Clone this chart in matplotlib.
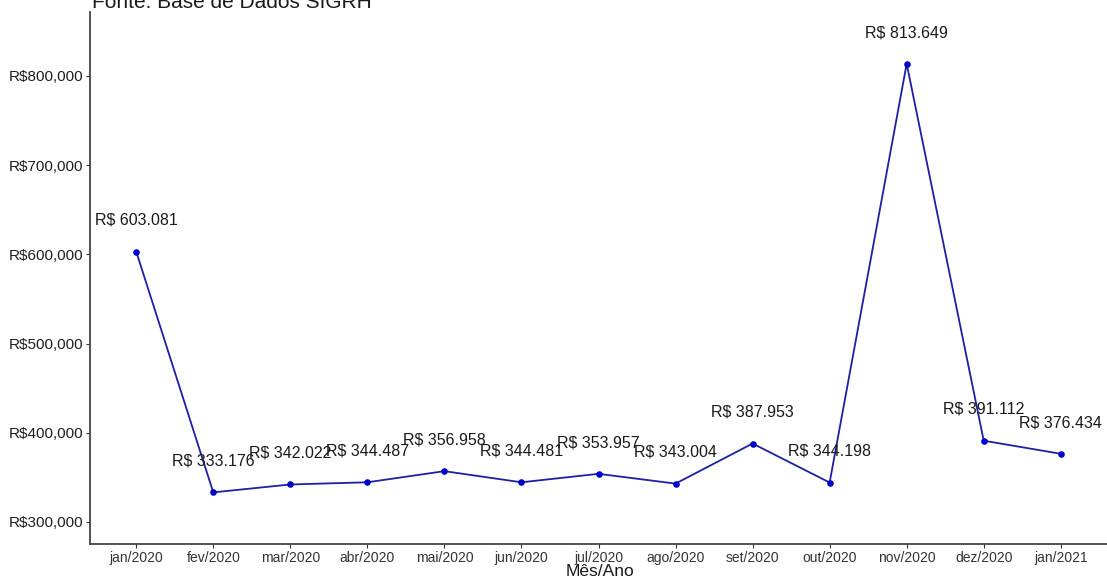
import numpy as np
import matplotlib.pyplot as plt
from matplotlib.ticker import FuncFormatter

meses = ['jan/2020', 'fev/2020', 'mar/2020', 'abr/2020', 'mai/2020', 'jun/2020',
         'jul/2020', 'ago/2020', 'set/2020', 'out/2020', 'nov/2020', 'dez/2020', 'jan/2021']
valores = [603081, 333176, 342022, 344487, 356958, 344481, 353957,
           343004, 387953, 344198, 813649, 391112, 376434]
rotulos = ['R$ 603.081', 'R$ 333.176', 'R$ 342.022', 'R$ 344.487', 'R$ 356.958',
           'R$ 344.481', 'R$ 353.957', 'R$ 343.004', 'R$ 387.953', 'R$ 344.198',
           'R$ 813.649', 'R$ 391.112', 'R$ 376.434']

plt.rcParams['font.family'] = ['Liberation Sans', 'DejaVu Sans']

fig = plt.figure(figsize=(11.07, 5.78), dpi=100)
ax = fig.add_axes([90/1107, 1-544/578, 1-90/1107, (544-12)/578])

x = np.arange(len(meses))
ax.plot(x, valores, color='#1f1fa3', lw=1.3, zorder=2)
ax.scatter(x, valores, color='#0000cc', s=14, zorder=3)

# rotulos acima dos pontos
for xi, v, r in zip(x, valores, rotulos):
    ax.text(xi, v + 35000, r, ha='center', va='center', fontsize=11.5, color='#1a1a1a')

ax.set_xlim(-0.6, 12.6)
ax.set_ylim(275300, 871700)
ax.set_xticks(x)
ax.set_xticklabels(meses, fontsize=10, color='#1e1e1e')
ax.set_yticks([300000, 400000, 500000, 600000, 700000, 800000])
ax.yaxis.set_major_formatter(FuncFormatter(lambda v, p: 'R$' + format(int(v), ',')))
ax.tick_params(axis='y', labelsize=11, colors='#333333', labelcolor='#1e1e1e', length=3, pad=2)
ax.tick_params(axis='x', colors='#333333', length=3, pad=2)

for s in ['top', 'right']:
    ax.spines[s].set_visible(False)
for s in ['left', 'bottom']:
    ax.spines[s].set_color('#444444')
    ax.spines[s].set_linewidth(1.3)

fig.text(600/1107, 2/578, 'Mês/Ano', fontsize=12.5, ha='center', va='baseline', color='#1a1a1a')
fig.text(92/1107, 1-8/578, 'Fonte: Base de Dados SIGRH', fontsize=15,
         ha='left', va='baseline', color='#1a1a1a')

fig.savefig('out.png', dpi=100)
